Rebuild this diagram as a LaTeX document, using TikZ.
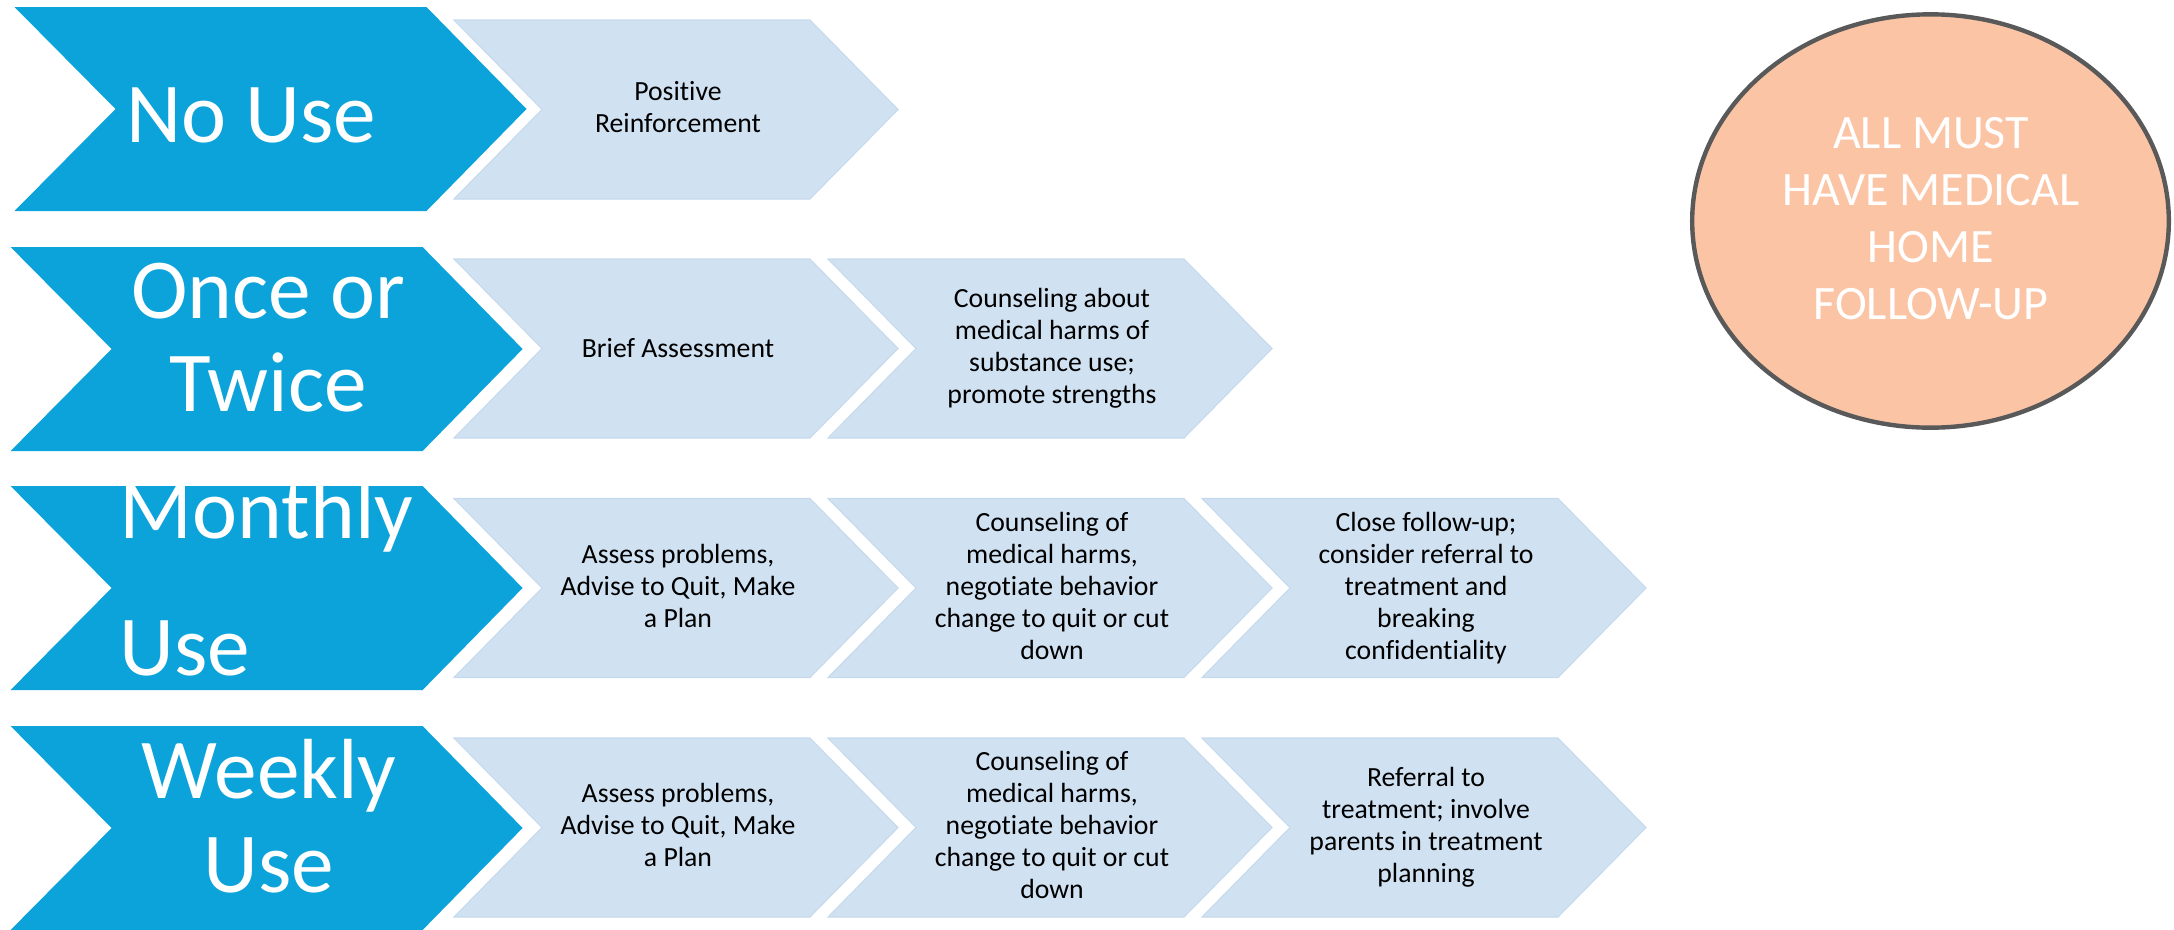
\documentclass[tikz,border=0pt]{standalone}
\usepackage{fontspec}
\setmainfont{Carlito}[Ligatures=NoCommon]
\usetikzlibrary{shapes.geometric}
\definecolor{useBlue}{HTML}{0BA3DA}
\definecolor{stepFill}{HTML}{D0E1F2}
\definecolor{stepLine}{HTML}{C6DAEE}
\definecolor{homeFill}{HTML}{FBC4A5}
\definecolor{homeLine}{HTML}{595959}
\tikzset{
  % --- canvas: one unit is one pixel of the slide --------------------------
  x=0.75pt, y=-0.75pt,
  capbox/.style   = {inner sep=0pt,
                     execute at begin node={\rule{0pt}{0.8em}},
                     execute at end node={\rule[-0.3em]{0pt}{0.3em}}},
  % --- frequency heads (dark chevrons) -------------------------------------
  freqchev/.style = {fill=useBlue},
  freqlbl/.style  = {capbox, text=white, align=center,
                     font=\fontsize{64}{70}\selectfont},
  % --- steps (light chevrons) ----------------------------------------------
  stepchev/.style = {fill=stepFill, draw=stepLine, line width=0.8pt},
  steplbl/.style  = {capbox, text=black, align=center,
                     font=\fontsize{20.8}{24}\selectfont},
  % --- side note ------------------------------------------------------------
  homeoval/.style = {ellipse, draw=homeLine, fill=homeFill, line width=3.3pt,
                     inner sep=0pt, minimum width=357.5pt, minimum height=310pt},
  homelbl/.style  = {capbox, text=white, align=center,
                     font=\fontsize{36}{42.75}\selectfont},
}

\begin{document}
\begin{tikzpicture}
\useasboundingbox (0,0) rectangle (2174,929);

% ==================== frequency heads ====================================
\foreach \lx/\yy in {14.5/109, 10.6/349, 10.6/588, 10.6/828}{
  \fill[freqchev] (\lx,\yy-102) -- ++(412,0) -- ++(100,102) -- ++(-100,102)
        -- ++(-412,0) -- ++(101,-102) -- cycle;}

\node[freqlbl] (nouse)   at (251,121.6) {No Use};
\node[freqlbl] (oncetwo) at (268,350.1) {Once or\\Twice};
\node[freqlbl, align=left, anchor=west,
      font=\fontsize{64}{102.75}\selectfont] (monthly) at (119.5,590.1) {Monthly\\Use};
\node[freqlbl] (weekly)  at (269,828.6) {Weekly\\Use};

% ==================== steps ===============================================
\foreach \cx/\yy in {454/109.5, 454/348.5, 828/348.5, 454/588, 828/588, 1202/588,
                     454/827.5, 828/827.5, 1202/827.5}{
  \filldraw[stepchev] (\cx,\yy-89.5) -- ++(356,0) -- ++(88,89.5) -- ++(-88,89.5)
        -- ++(-356,0) -- ++(88,-89.5) -- cycle;}

% row 1
\node[steplbl] (praise)    at (678,111.5) {Positive\\Reinforcement};
% row 2
\node[steplbl] (brief)     at (678,350.5) {Brief Assessment};
\node[steplbl] (counsel2)  at (1052,350.5)
     {Counseling about\\medical harms of\\substance use;\\promote strengths};
% row 3
\node[steplbl] (assess3)   at (678,590)
     {Assess problems,\\Advise to Quit, Make\\a Plan};
\node[steplbl] (counsel3)  at (1052,590)
     {Counseling of\\medical harms,\\negotiate behavior\\change to quit or cut\\down};
\node[steplbl] (follow3)   at (1426,590)
     {Close follow-up;\\consider referral to\\treatment and\\breaking\\confidentiality};
% row 4
\node[steplbl] (assess4)   at (678,829.5)
     {Assess problems,\\Advise to Quit, Make\\a Plan};
\node[steplbl] (counsel4)  at (1052,829.5)
     {Counseling of\\medical harms,\\negotiate behavior\\change to quit or cut\\down};
\node[steplbl] (referral4) at (1426,829.5)
     {Referral to\\treatment; involve\\parents in treatment\\planning};

% ==================== medical home ========================================
\node[homeoval] (home) at (1930.5,221) {};
\node[homelbl] (homenote) at (1931,225.4) {ALL MUST\\HAVE MEDICAL\\HOME\\FOLLOW-UP};

\end{tikzpicture}
\end{document}
